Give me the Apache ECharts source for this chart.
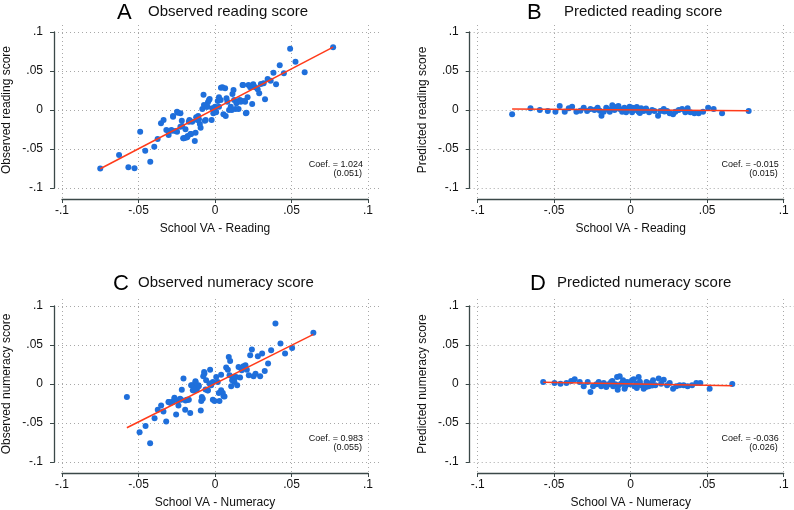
<!DOCTYPE html>
<html>
<head>
<meta charset="utf-8">
<script src="https://cdn.jsdelivr.net/npm/echarts@6/dist/echarts.min.js"></script>
<style>
  html, body { margin: 0; padding: 0; background: #fff; }
  #main { width: 794px; height: 510px; }
</style>
</head>
<body>
<div id="main"></div>
<script>
// ticks shared by every panel
var tickValues = [-0.1, -0.05, 0, 0.05, 0.1];
var tickLabels = ['-.1', '-.05', '0', '.05', '.1'];

// A - observed reading score vs school VA (reading)
var readObs = [
  [-0.075, -0.075], [-0.0627, -0.0577], [-0.0566, -0.0735], [-0.0526, -0.0748], [-0.0489, -0.0278],
  [-0.0423, -0.0662], [-0.0456, -0.0521], [-0.0397, -0.047], [-0.0375, -0.0372], [-0.0353, -0.0171],
  [-0.0336, -0.0128], [-0.0318, -0.0256], [-0.0303, -0.032], [-0.028, -0.0265], [-0.0274, -0.0085],
  [-0.0259, -0.0269], [-0.0243, -0.0034], [-0.0226, -0.0043], [-0.0226, -0.0214], [-0.0217, -0.0137],
  [-0.0208, -0.0363], [-0.0193, -0.0355], [-0.0178, -0.0333], [-0.0167, -0.0128], [-0.0156, -0.0308],
  [-0.0149, -0.015], [-0.0132, -0.0397], [-0.0127, -0.0291], [-0.0116, -0.0128], [-0.011, -0.0077],
  [-0.0099, -0.018], [-0.0094, -0.0226], [-0.0083, 0.0013], [-0.0075, 0.0197], [-0.0066, -0.0137],
  [-0.0057, 0.0043], [-0.0046, 0.0098], [-0.0035, 0.0141], [-0.0022, -0.0128], [-0.0011, -0.0043],
  [0.0, 0.0043], [0.0007, -0.003], [0.0018, 0.0115], [0.0026, 0.0162], [0.0039, 0.0286],
  [0.0048, 0.0291], [0.0055, -0.0056], [0.0066, 0.0278], [0.007, -0.0077], [0.0081, 0.0107],
  [0.0092, 0.0], [0.0103, 0.0043], [0.0114, 0.0205], [0.0121, 0.0256], [0.0125, 0.0128],
  [0.0134, 0.0013], [0.014, 0.0085], [0.0154, 0.0013], [0.0162, 0.0128], [0.0171, 0.012],
  [0.018, 0.032], [0.0191, 0.0115], [0.0202, -0.0043], [0.0213, 0.0162], [0.0219, 0.032],
  [0.023, 0.0291], [0.0243, 0.0077], [0.025, 0.0329], [0.0263, 0.0291], [0.0279, 0.0265],
  [0.0289, 0.0214], [0.03, 0.0333], [0.0318, 0.0342], [0.0327, 0.0137], [0.0344, 0.0397],
  [0.0364, 0.0376], [0.0382, 0.0479], [0.0399, 0.0329], [0.0423, 0.0573], [0.045, 0.047],
  [0.0491, 0.0786], [0.0526, 0.062], [0.0586, 0.0483], [0.0772, 0.0803],
  [-0.0215, -0.0205], [-0.0193, -0.0248], [-0.0171, -0.015], [-0.0123, -0.0094], [-0.0105, -0.012],
  [-0.0274, -0.0077], [-0.0248, -0.0021], [-0.0303, -0.0278], [-0.0285, -0.0256], [-0.0248, -0.0278],
  [-0.0204, -0.0363], [-0.0182, -0.035], [-0.016, -0.0308], [-0.0061, -0.0128], [-0.0072, 0.0064],
  [-0.0039, 0.0128], [-0.005, 0.0043], [-0.0018, 0.0021], [0.0004, -0.0021], [0.0026, 0.0043],
  [0.0037, 0.0128], [0.0075, 0.015], [0.011, 0.0], [0.0147, 0.0107], [0.0169, 0.0107],
  [0.0184, 0.032], [0.0197, 0.0107], [0.0206, -0.0034]
];
var readObsFit = [[-0.075, -0.0753], [0.0772, 0.0805]];

// B - predicted reading score vs school VA (reading)
var readPred = [
  [-0.0775, -0.0055], [-0.0655, 0.0021], [-0.0594, 0.0], [-0.0542, -0.0013], [-0.0492, -0.0021],
  [-0.0464, 0.0051], [-0.0431, -0.0021], [-0.0405, 0.0021], [-0.0383, 0.0043], [-0.0355, -0.0021],
  [-0.0329, -0.0009], [-0.0307, 0.003], [-0.0285, -0.0013], [-0.0263, 0.0013], [-0.0237, 0.0],
  [-0.0216, 0.003], [-0.0202, -0.0009], [-0.0191, -0.0073], [-0.0176, -0.0021], [-0.0154, 0.0013],
  [-0.0137, -0.0021], [-0.0121, 0.0021], [-0.0106, 0.0], [-0.0089, 0.0043], [-0.0072, 0.0013],
  [-0.0056, -0.0021], [-0.0041, 0.003], [-0.0024, 0.0], [-0.0007, 0.0043], [0.0009, -0.003],
  [0.002, 0.0021], [0.0037, 0.0], [0.0052, -0.0021], [0.0068, 0.0021], [0.0085, -0.0013],
  [0.0103, 0.0], [0.012, -0.003], [0.014, 0.0], [0.0155, -0.0013], [0.0179, -0.0073],
  [0.0194, -0.0013], [0.0216, 0.0013], [0.0238, -0.0013], [0.0255, -0.0043], [0.0277, -0.0055],
  [0.0292, -0.0021], [0.0314, 0.0], [0.0336, 0.0013], [0.0357, -0.003], [0.0372, 0.0021],
  [0.039, -0.003], [0.0416, -0.0043], [0.0444, -0.0043], [0.0473, -0.0021], [0.0506, 0.003],
  [0.0542, 0.0013], [0.0597, -0.0043], [0.0771, -0.0013],
  [-0.012, 0.006], [-0.008, 0.005], [0.004, 0.004], [0.006, -0.004], [-0.003, -0.003],
  [0.01, 0.002], [-0.016, 0.003], [0.022, -0.002], [-0.022, 0.0015], [0.001, 0.003]
];
var readPredFit = [[-0.0775, 0.0013], [0.0771, -0.0011]];

// C - observed numeracy score vs school VA (numeracy)
var numObs = [
  [-0.0576, -0.0167], [-0.0493, -0.0618], [-0.0454, -0.054], [-0.0424, -0.0759], [-0.0395, -0.0438],
  [-0.0374, -0.033], [-0.0352, -0.0275], [-0.0337, -0.0352], [-0.0319, -0.048], [-0.0304, -0.0232],
  [-0.0291, -0.0245], [-0.0276, -0.0232], [-0.0265, -0.0176], [-0.0254, -0.039], [-0.0239, -0.0275],
  [-0.0228, -0.0189], [-0.0217, -0.0073], [-0.0206, 0.0069], [-0.0195, -0.033], [-0.0184, -0.0202],
  [-0.0171, -0.0202], [-0.0162, -0.0373], [-0.0149, -0.0017], [-0.0138, -0.0082], [-0.0128, 0.0034],
  [-0.0119, -0.0073], [-0.0108, -0.0017], [-0.0093, -0.0339], [-0.0086, -0.0167], [-0.0077, 0.0099],
  [-0.0071, 0.0154], [-0.0058, 0.0047], [-0.0047, -0.0082], [-0.0032, 0.0184], [-0.0025, -0.0017],
  [-0.0014, -0.0202], [-0.0003, -0.0219], [0.0008, 0.009], [0.0018, 0.0026], [0.0029, -0.0219],
  [0.004, 0.012], [0.0051, -0.0116], [0.0062, -0.0159], [0.0073, 0.021], [0.0084, 0.0184],
  [0.009, 0.0347], [0.0099, 0.0296], [0.0106, -0.003], [0.0117, 0.009], [0.0127, 0.0026],
  [0.0138, 0.009], [0.0145, -0.0017], [0.0154, 0.0219], [0.0164, 0.0082], [0.0175, 0.0176],
  [0.0186, 0.0227], [0.0199, 0.024], [0.0208, 0.0184], [0.0221, 0.0112], [0.023, 0.0369],
  [0.0241, 0.0442], [0.0252, 0.0099], [0.0265, 0.0133], [0.028, 0.0356], [0.0295, 0.0099],
  [0.0308, 0.039], [0.0325, 0.0167], [0.0347, 0.0262], [0.0367, 0.0433], [0.0395, 0.0776],
  [0.0428, 0.0519], [0.0458, 0.039], [0.0504, 0.0463], [0.0643, 0.0656],
  [-0.0302, -0.0232], [-0.028, -0.0232], [-0.0265, -0.0188], [-0.0243, -0.021], [-0.0221, -0.0201],
  [-0.0193, -0.021], [-0.0178, -0.0201], [-0.0156, -0.0017], [-0.0145, -0.0081], [-0.0127, 0.0026],
  [-0.0119, -0.0046], [-0.0106, -0.003], [-0.009, -0.0219], [-0.008, -0.0188], [-0.0069, 0.0134],
  [-0.0062, -0.0072], [-0.0047, -0.0081], [-0.0036, 0.0005], [-0.0014, 0.0026], [0.0025, -0.0116],
  [0.004, -0.0081], [0.0056, -0.0158], [0.0095, 0.0112], [0.0112, 0.0048], [0.0127, 0.009]
];
var numObsFit = [[-0.0576, -0.0561], [0.0643, 0.0637]];

// D - predicted numeracy score vs school VA (numeracy)
var numPred = [
  [-0.0572, 0.0026], [-0.0498, 0.0013], [-0.0459, 0.0004], [-0.042, 0.0013], [-0.0389, 0.0039],
  [-0.0366, 0.006], [-0.0333, 0.0026], [-0.0307, -0.003], [-0.0281, 0.0026], [-0.0263, -0.0103],
  [-0.0246, -0.003], [-0.0224, -0.0004], [-0.0209, 0.0026], [-0.0193, -0.003], [-0.0176, 0.0013],
  [-0.0159, -0.003], [-0.0144, -0.0004], [-0.0128, 0.0026], [-0.0115, -0.003], [-0.01, -0.0004],
  [-0.0089, 0.009], [-0.0085, -0.0073], [-0.0072, 0.0099], [-0.0063, 0.0004], [-0.005, 0.0047],
  [-0.0035, -0.003], [-0.0024, 0.0026], [-0.0007, -0.0004], [0.0009, 0.0047], [0.0024, -0.003],
  [0.0037, 0.0004], [0.0052, 0.009], [0.0068, -0.0017], [0.0085, -0.006], [0.0103, 0.0026],
  [0.0118, -0.003], [0.0133, 0.0013], [0.0146, 0.0047], [0.0161, -0.0017], [0.0183, 0.0069],
  [0.0199, 0.0004], [0.0216, 0.0056], [0.0238, -0.0017], [0.0255, 0.0013], [0.0277, -0.006],
  [0.0298, -0.003], [0.032, -0.0017], [0.0346, -0.0017], [0.0372, -0.003], [0.0401, -0.0017],
  [0.0429, 0.0013], [0.0455, 0.0013], [0.0516, -0.006], [0.0664, 0.0],
  [-0.012, 0.004], [-0.008, -0.002], [-0.004, -0.006], [0.002, 0.006], [0.006, 0.003],
  [0.01, -0.004], [0.014, -0.002], [-0.016, -0.004], [0.004, -0.005], [-0.001, 0.002]
];
var numPredFit = [[-0.0572, 0.0022], [0.0664, -0.0023]];

var FONT = "'Liberation Sans', Arial, Helvetica, sans-serif";
var AXIS_COLOR = '#3b4848';
var DOT_COLOR = '#1f6fdb';
var FIT_COLOR = '#ff3b1a';

var panels = [
  { letter: 'A', title: 'Observed reading score', yName: 'Observed reading score', xName: 'School VA - Reading',
    pts: readObs, fit: readObsFit, coef: 'Coef. = 1.024', se: '(0.051)' },
  { letter: 'B', title: 'Predicted reading score', yName: 'Predicted reading score', xName: 'School VA - Reading',
    pts: readPred, fit: readPredFit, coef: 'Coef. = -0.015', se: '(0.015)' },
  { letter: 'C', title: 'Observed numeracy score', yName: 'Observed numeracy score', xName: 'School VA - Numeracy',
    pts: numObs, fit: numObsFit, coef: 'Coef. = 0.983', se: '(0.055)' },
  { letter: 'D', title: 'Predicted numeracy score', yName: 'Predicted numeracy score', xName: 'School VA - Numeracy',
    pts: numPred, fit: numPredFit, coef: 'Coef. = -0.036', se: '(0.026)' }
];

// plot boxes in pixels: -.1..1 on both axes
var boxes = [
  { left: 62, top: 32, letterX: 117, titleX: 148, titleY: 12 },
  { left: 477.7, top: 32, letterX: 527, titleX: 564, titleY: 12 },
  { left: 62, top: 306, letterX: 113, titleX: 138, titleY: 283 },
  { left: 477.7, top: 306, letterX: 530, titleX: 557, titleY: 283 }
];
var W = 306, H = 156;
var pxX = W / 0.2, pxY = H / 0.2;
var padL = 8, padT = 7, padR = 12, padB = 11;

function fmt(v) {
  for (var i = 0; i < tickValues.length; i++) {
    if (Math.abs(v - tickValues[i]) < 1e-9) return tickLabels[i];
  }
  return '';
}

var grid = [], xAxis = [], yAxis = [], series = [], graphic = [];

panels.forEach(function (p, i) {
  var b = boxes[i];
  var bgW = Math.min(W + padL + padR, 794 - (b.left - padL));
  // background grid: dotted lines running a bit past the ticks
  grid.push({ left: b.left - padL, top: b.top - padT, width: bgW, height: H + padT + padB });
  xAxis.push({
    gridIndex: i, type: 'value',
    min: -0.1 - padL / pxX, max: -0.1 - padL / pxX + bgW / pxX,
    axisLine: { show: false }, axisLabel: { show: false },
    axisTick: { show: false, customValues: tickValues },
    splitLine: { show: true, lineStyle: { color: '#a8a8a8', type: [1, 3], width: 1 } }
  });
  yAxis.push({
    gridIndex: i, type: 'value',
    min: -0.1 - padB / pxY, max: 0.1 + padT / pxY,
    axisLine: { show: false }, axisLabel: { show: false },
    axisTick: { show: false, customValues: tickValues },
    splitLine: { show: true, lineStyle: { color: '#a8a8a8', type: [1, 3], width: 1 } }
  });
});

panels.forEach(function (p, i) {
  var b = boxes[i];
  var g = 4 + i;
  grid.push({ left: b.left, top: b.top, width: W, height: H });
  xAxis.push({
    gridIndex: g, type: 'value', min: -0.1, max: 0.1, interval: 0.05,
    offset: padB,
    name: p.xName, nameLocation: 'middle', nameGap: 24,
    nameTextStyle: { fontFamily: FONT, fontSize: 12, color: '#111' },
    axisLine: { show: true, onZero: false, lineStyle: { color: AXIS_COLOR, width: 1.3 } },
    axisTick: { show: true, length: 4, lineStyle: { color: AXIS_COLOR } },
    axisLabel: { formatter: fmt, margin: 6, fontFamily: FONT, fontSize: 12, color: '#111' },
    splitLine: { show: false }
  });
  yAxis.push({
    gridIndex: g, type: 'value', min: -0.1, max: 0.1, interval: 0.05,
    offset: padL,
    name: p.yName, nameLocation: 'middle', nameGap: 41, nameRotate: 90,
    nameTextStyle: { fontFamily: FONT, fontSize: 12, color: '#111' },
    axisLine: { show: true, onZero: false, lineStyle: { color: AXIS_COLOR, width: 1.3 } },
    axisTick: { show: true, length: 4, lineStyle: { color: AXIS_COLOR } },
    axisLabel: { formatter: fmt, margin: 11, fontFamily: FONT, fontSize: 12, color: '#111' },
    splitLine: { show: false }
  });
  series.push({
    type: 'scatter', xAxisIndex: g, yAxisIndex: g, data: p.pts,
    symbolSize: 6, itemStyle: { color: DOT_COLOR, opacity: 1 }, z: 3
  });
  series.push({
    type: 'line', xAxisIndex: g, yAxisIndex: g, data: p.fit,
    symbol: 'none', lineStyle: { color: FIT_COLOR, width: 1.5 }, z: 4
  });

  graphic.push({
    type: 'text', x: b.letterX, y: b.titleY + 1,
    style: { text: p.letter, font: '22px ' + FONT, fill: '#000', textVerticalAlign: 'middle' }
  });
  graphic.push({
    type: 'text', x: b.titleX, y: b.titleY,
    style: { text: p.title, font: '15px ' + FONT, fill: '#111', textVerticalAlign: 'middle' }
  });
  graphic.push({
    type: 'text', x: b.left + W - 5, y: b.top + 133,
    style: { text: p.coef, font: '9px ' + FONT, fill: '#111', textAlign: 'right', textVerticalAlign: 'middle' }
  });
  graphic.push({
    type: 'text', x: b.left + W - 6, y: b.top + 141.5,
    style: { text: p.se, font: '9px ' + FONT, fill: '#111', textAlign: 'right', textVerticalAlign: 'middle' }
  });
});

var chart = echarts.init(document.getElementById('main'), null, { renderer: 'canvas' });
chart.setOption({
  backgroundColor: '#fff',
  animation: false,
  grid: grid,
  xAxis: xAxis,
  yAxis: yAxis,
  series: series,
  graphic: graphic
});
</script>
</body>
</html>
